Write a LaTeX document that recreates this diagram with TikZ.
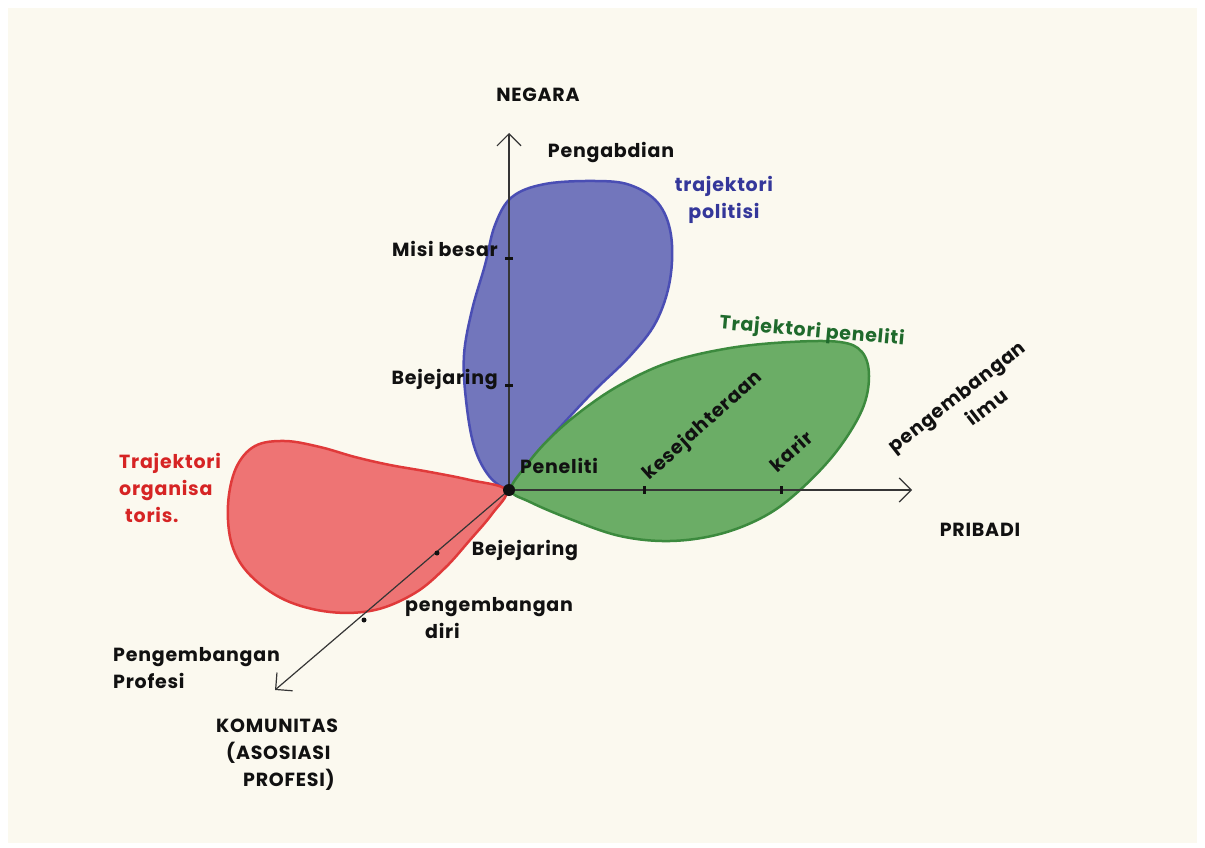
\documentclass[tikz,border=0pt]{standalone}
\usepackage{fontspec}
\setmainfont{Poppins}[LetterSpace=4]
\usetikzlibrary{arrows.meta}
\definecolor{bg}{HTML}{FBF9EF}
\definecolor{bluefill}{HTML}{7276BC}
\definecolor{blueline}{HTML}{4A4EB4}
\definecolor{bluetext}{HTML}{34379A}
\definecolor{greenfill}{HTML}{6BAD66}
\definecolor{greenline}{HTML}{3C8A3E}
\definecolor{greentext}{HTML}{1F6A2C}
\definecolor{redfill}{HTML}{EE7474}
\definecolor{redline}{HTML}{E03A3A}
\definecolor{redtext}{HTML}{D62424}
\definecolor{ink}{HTML}{111111}
\tikzset{
  lbl/.style={font=\bfseries\fontsize{19}{27}\selectfont, text=ink, inner sep=1pt},
  axis/.style={draw=ink!85, line width=1.2pt, -{Straight Barb[length=12pt,width=24pt,line width=1.2pt]}},
  tickh/.style={rectangle, fill=ink, inner sep=0pt, minimum width=8pt, minimum height=3pt},
  tickv/.style={rectangle, fill=ink, inner sep=0pt, minimum width=3pt, minimum height=8pt},
  tickd/.style={circle, fill=ink, inner sep=0pt, minimum size=5pt},
  blob/.style={line width=2.5pt, line join=round},
}
\begin{document}
\begin{tikzpicture}[x=1pt,y=-1pt]
\useasboundingbox (0,0) rectangle (1205,848);
\fill[white] (0,0) rectangle (1205,848);
\fill[bg] (8,8) rectangle (1197,843);

% blobs
\draw[blob, fill=bluefill, draw=blueline] plot[smooth cycle, tension=0.6] coordinates {
 (508,489) (489,476) (474,446) (466,400) (464,355) (472,310) (485,265) (495,225) (512,197)
 (545,184) (595,181) (630,185) (658,203) (671,235) (670,280) (656,322) (630,356) (595,390)
 (562,425) (535,455) (518,478)};
\draw[blob, fill=greenfill, draw=greenline] plot[smooth cycle, tension=0.6] coordinates {
 (511,490) (525,467) (548,440) (580,412) (620,385) (670,362) (730,348) (790,342) (840,342)
 (862,352) (869,376) (862,410) (836,452) (800,490) (765,516) (720,534) (670,541) (620,536)
 (570,519) (530,502)};
\draw[blob, fill=redfill, draw=redline] plot[smooth cycle, tension=0.6] coordinates {
 (506,490) (470,480) (430,472) (390,465) (355,457) (320,447) (285,441) (255,446) (236,468)
 (228,505) (232,545) (250,575) (285,600) (330,612) (375,610) (415,593) (445,568) (470,540)
 (492,514)};

% axes
\coordinate (O) at (509,490);
\coordinate (vtip) at (509,133);
\coordinate (htip) at (912,490);
\coordinate (dtip) at (275,690);
\draw[axis] (O) -- (vtip);
\draw[axis] (O) -- (htip);
\draw[axis] (O) -- (dtip);

% ticks
\node[tickh] (tv1) at (509,258) {};
\node[tickh] (tv2) at (509,385) {};
\node[tickv] (th1) at (644,490) {};
\node[tickv] (th2) at (781,490) {};
\node[tickd] (td1) at (437,553) {};
\node[tickd] (td2) at (364,620) {};
\node[circle, fill=ink, inner sep=0pt, minimum size=12pt] (dot) at (O) {};

% labels
\node[lbl] (negara) at (538,95) {NEGARA};
\node[lbl] (pengabdian) at (611,153) {Pengabdian};
\node[lbl, text=bluetext, align=center] (tpol) at (724,200) {trajektori\\politisi};
\node[lbl, anchor=east] (misi) at (499,249) {Misi besar};
\node[lbl, anchor=east] (bej1) at (499,380) {Bejejaring};
\node[lbl] (peneliti) at (559,466) {Peneliti};
\node[lbl, rotate=42] (kes) at (703,426) {kesejahteraan};
\node[lbl, rotate=42] (karir) at (791,451) {karir};
\node[lbl, text=greentext, rotate=-5] (tpen) at (812,332) {Trajektori peneliti};
\node[lbl, rotate=38, align=center] (ilmu) at (965,407) {pengembangan\\\hspace*{34pt}ilmu};
\node[lbl] (pribadi) at (980,530) {PRIBADI};
\node[lbl, text=redtext, align=left, anchor=west] (torg) at (118,488) {Trajektori\\organisa\\\hspace*{6pt}toris.};
\node[lbl] (bej2) at (525,550) {Bejejaring};
\node[lbl, align=left, anchor=north west] (diri) at (404,596) {pengembangan\\\hspace*{20pt}diri};
\node[lbl, align=left, anchor=west] (profesi) at (112,668) {Pengembangan\\Profesi};
\node[lbl, align=left, anchor=north west] (komunitas) at (215,718) {KOMUNITAS\\\hspace*{10pt}(ASOSIASI\\\hspace*{27pt}PROFESI)};
\end{tikzpicture}
\end{document}
